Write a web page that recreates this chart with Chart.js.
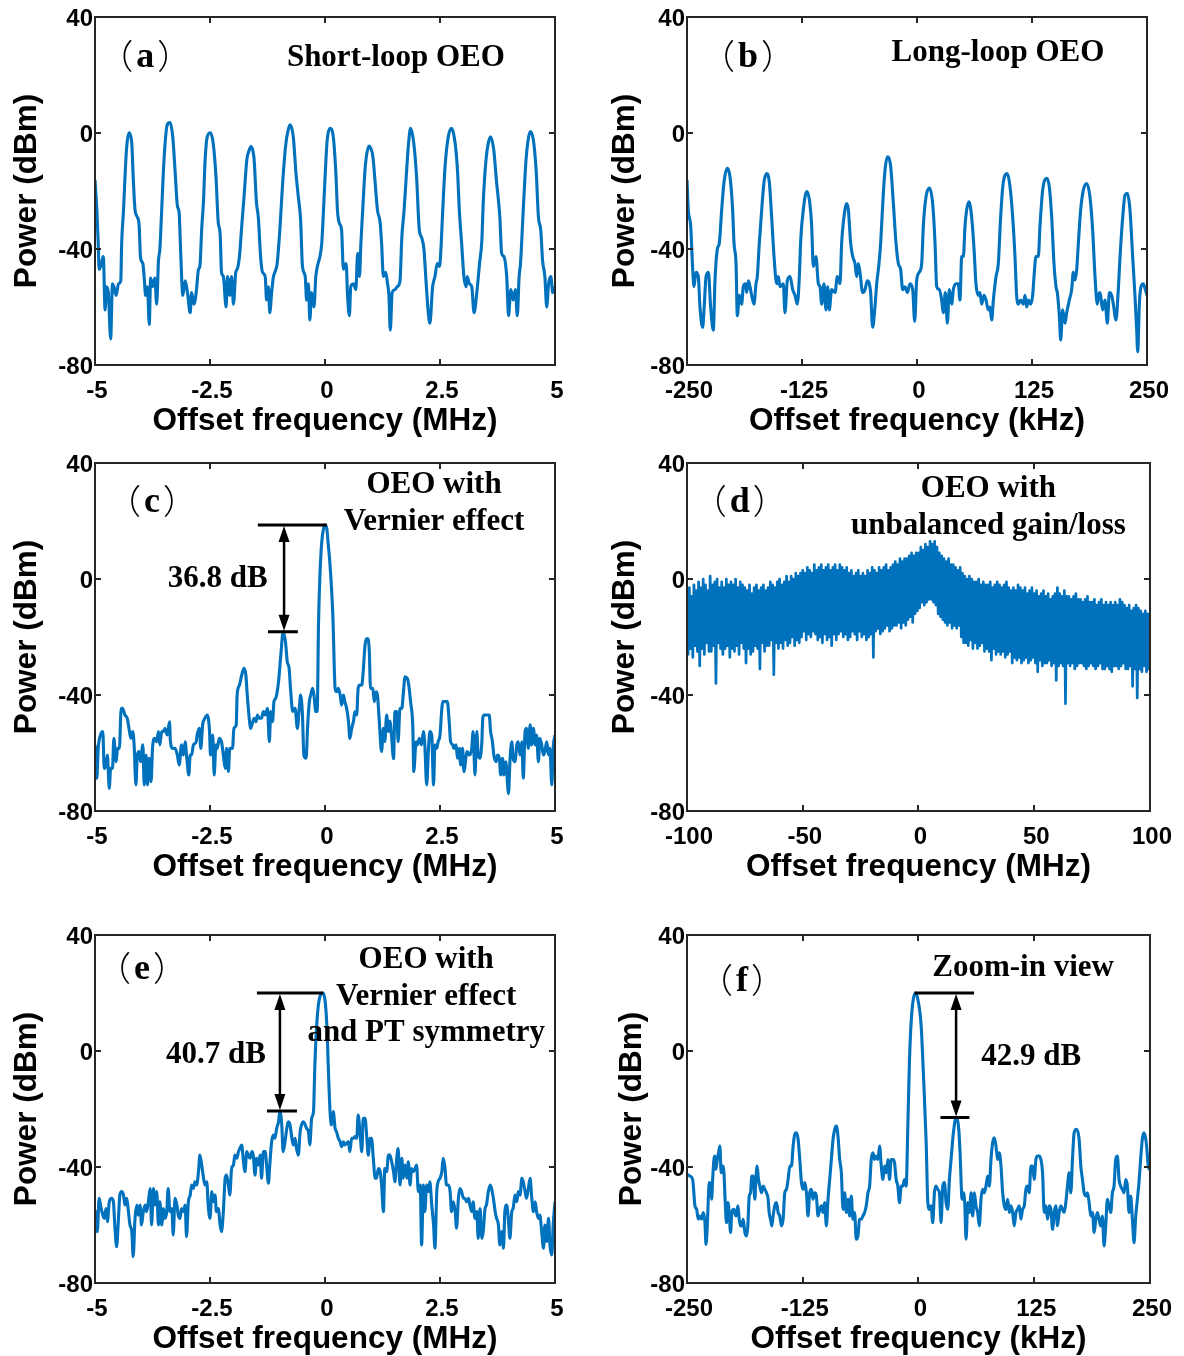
<!DOCTYPE html>
<html>
<head>
<meta charset="utf-8">
<script src="https://cdn.jsdelivr.net/npm/chart.js@4.4.1/dist/chart.umd.min.js"></script>
<style>
  html, body { margin: 0; padding: 0; background: #fff; overflow: hidden; }
  #page { position: relative; width: 1184px; height: 1356px; }
  #page canvas { position: absolute; }
</style>
</head>
<body>
<div id="page">
  <canvas id="panelA" width="592" height="438" style="left:0;top:0"></canvas>
  <canvas id="panelB" width="592" height="438" style="left:592px;top:0"></canvas>
  <canvas id="panelC" width="592" height="438" style="left:0;top:446px"></canvas>
  <canvas id="panelD" width="592" height="438" style="left:592px;top:446px"></canvas>
  <canvas id="panelE" width="592" height="438" style="left:0;top:918px"></canvas>
  <canvas id="panelF" width="592" height="438" style="left:592px;top:918px"></canvas>
</div>
<script>
// ---- axis ticks ----
const ticksMHz = [-5, -2.5, 0, 2.5, 5];
const ticksKHz = [-250, -125, 0, 125, 250];
const ticksWide = [-100, -50, 0, 50, 100];
const powerTicks = [-80, -40, 0, 40];

// ---- (a) short-loop OEO, MHz / dBm ----
const aFreq = [
  -5.00, -4.96, -4.93, -4.91, -4.86, -4.82, -4.78, -4.75, -4.71, -4.66,
  -4.62, -4.59, -4.54, -4.49, -4.44, -4.42, -4.38, -4.33, -4.30, -4.26,
  -4.22, -4.20, -4.17, -4.13, -4.08, -4.04, -4.01, -3.96, -3.93, -3.90,
  -3.86, -3.82, -3.79, -3.75, -3.70, -3.66, -3.62, -3.59, -3.55, -3.50,
  -3.43, -3.37, -3.31, -3.26, -3.21, -3.17, -3.14, -3.09, -3.04, -2.99,
  -2.93, -2.90, -2.85, -2.80, -2.75, -2.72, -2.68, -2.64, -2.61, -2.56,
  -2.49, -2.43, -2.37, -2.32, -2.28, -2.25, -2.21, -2.15, -2.12, -2.07,
  -2.03, -1.99, -1.94, -1.91, -1.86, -1.81, -1.76, -1.70, -1.65, -1.61,
  -1.57, -1.54, -1.49, -1.45, -1.40, -1.36, -1.30, -1.27, -1.23, -1.20,
  -1.16, -1.12, -1.09, -1.04, -0.98, -0.92, -0.85, -0.80, -0.76, -0.69,
  -0.63, -0.58, -0.53, -0.49, -0.43, -0.40, -0.36, -0.33, -0.29, -0.24,
  -0.20, -0.15, -0.11, -0.07, -0.04, 0.02, 0.05, 0.11, 0.18, 0.24,
  0.27, 0.31, 0.36, 0.40, 0.46, 0.49, 0.53, 0.56, 0.62, 0.67,
  0.71, 0.75, 0.78, 0.82, 0.87, 0.91, 0.96, 1.00, 1.04, 1.09,
  1.14, 1.20, 1.23, 1.27, 1.32, 1.36, 1.39, 1.42, 1.46, 1.52,
  1.57, 1.63, 1.67, 1.72, 1.78, 1.82, 1.86, 1.93, 1.99, 2.05,
  2.10, 2.15, 2.20, 2.24, 2.28, 2.34, 2.39, 2.44, 2.49, 2.52,
  2.56, 2.61, 2.68, 2.75, 2.83, 2.88, 2.92, 2.97, 3.02, 3.07,
  3.09, 3.14, 3.19, 3.24, 3.30, 3.36, 3.41, 3.44, 3.50, 3.55,
  3.60, 3.67, 3.73, 3.80, 3.84, 3.89, 3.95, 3.99, 4.04, 4.09,
  4.14, 4.18, 4.22, 4.25, 4.31, 4.37, 4.41, 4.46, 4.53, 4.59,
  4.64, 4.69, 4.73, 4.78, 4.82, 4.86, 4.91, 4.95, 5.00
];
const aPower = [
  -16.2, -26.5, -38, -47, -45, -42.6, -61, -53, -55, -71,
  -52, -53, -56, -52, -51, -38, -26.5, -9.3, -3, 0.1,
  -1.3, -3.6, -15, -26.5, -29, -32, -43, -45, -50, -56,
  -53, -66, -50, -53, -50, -59, -44, -40, -26.5, -9.3,
  2.8, 3.6, -1.3, -12.8, -25, -27.7, -40, -56, -51, -55,
  -62, -55, -59, -55, -47, -46, -33, -23, -10.5, -1.3,
  0.1, -3.6, -15, -31, -34.6, -48, -49.5, -60, -49.5, -56,
  -49.5, -59, -48, -47, -42.6, -32, -22, -9.3, -6, -4.7,
  -6, -9.3, -24, -29, -42.6, -48, -49.5, -57.6, -53, -62,
  -55, -49.5, -48, -45, -33, -17, -3.6, 1, 2.8, -1.3,
  -14, -22, -30, -46, -49.5, -57.6, -52, -64.5, -55, -60,
  -49.5, -45, -42.6, -38, -29, -9.3, -2, 1.6, -1.3, -15,
  -26.5, -31, -33.4, -47, -45, -56, -63, -53, -52, -54,
  -41.5, -49.5, -38, -26.5, -12.8, -7, -4.5, -5.5, -8, -17,
  -26.5, -31, -38, -49.5, -48, -52, -56, -68, -55, -54,
  -53, -51, -36, -26.5, -11.6, -3, 1.6, -3.6, -15, -33.4,
  -36, -40, -52, -61, -65.6, -53, -49.5, -45, -46, -40,
  -26.5, -11.6, -1.3, 1.6, -3.6, -12.8, -26.5, -38, -49.5, -53,
  -49.5, -52, -53, -62, -55, -45, -37, -24, -9.3, -3.5,
  -1.3, -6, -17, -28.7, -41.5, -42.6, -49.5, -63, -54, -57.6,
  -54, -63, -49.5, -45, -26.5, -9.3, -3, 0.5, -2.4, -12.8,
  -29, -33.4, -44, -49.5, -60, -52, -49.5, -55, -53
];

// ---- (b) long-loop OEO, kHz / dBm ----
const bFreq = [
  -250, -248.6, -246.0, -243.8, -242.4, -240.2, -237.7, -235.9, -233.0, -231.5,
  -229.3, -226.8, -224.3, -221.4, -219.6, -217.0, -214.9, -212.3, -209.8, -206.2,
  -203.3, -200.4, -198.9, -196.7, -195.3, -193.1, -190.6, -188.8, -186.6, -185.1,
  -183.3, -181.5, -179.7, -177.2, -175.0, -173.6, -171.4, -168.8, -166.3, -163.4,
  -160.5, -158.0, -155.4, -152.5, -150.7, -148.9, -145.3, -143.5, -141.0, -138.0,
  -135.1, -132.6, -130.1, -127.9, -126.4, -123.6, -119.9, -117.0, -114.5, -112.7,
  -109.8, -107.2, -105.4, -103.6, -101.1, -98.9, -97.1, -95.3, -92.8, -89.1,
  -86.6, -83.7, -81.9, -80.1, -76.4, -74.6, -72.1, -69.9, -67.4, -65.6,
  -63.8, -62.0, -59.1, -56.5, -54.0, -51.8, -50.4, -48.2, -45.7, -43.8,
  -41.3, -39.5, -36.6, -34.5, -32.2, -28.6, -25.7, -22.8, -20.3, -17.8,
  -15.6, -13.0, -10.5, -7.6, -4.7, -2.5, -0.4, 2.5, 5.1, 6.9,
  9.8, 13.4, 17.0, 19.6, 21.4, 24.3, 26.8, 28.6, 30.8, 33.0,
  35.1, 37.7, 39.5, 42.4, 44.9, 46.7, 48.6, 50.4, 52.2, 54.0,
  56.5, 59.4, 62.0, 64.1, 66.7, 68.5, 70.3, 72.8, 75.0, 77.5,
  79.3, 81.2, 83.0, 85.9, 88.4, 90.9, 93.8, 98.2, 101.1, 104.0,
  106.5, 108.3, 110.1, 112.7, 115.6, 117.4, 119.2, 121.0, 123.6, 125.7,
  127.2, 129.3, 131.9, 133.7, 136.6, 141.0, 143.8, 146.4, 148.9, 151.1,
  152.5, 154.7, 156.2, 158.3, 160.9, 162.7, 165.6, 168.1, 169.9, 171.7,
  173.6, 175.4, 177.9, 180.8, 184.4, 188.0, 190.9, 193.5, 196.0, 198.2,
  199.6, 201.8, 204.3, 206.9, 209.1, 211.6, 213.4, 216.3, 218.8, 220.7,
  223.6, 226.1, 228.6, 231.5, 234.4, 236.9, 238.8, 239.9, 241.7, 243.5,
  246.0, 248.2, 250
];
const bPower = [
  -16.2, -26.5, -32, -47, -53, -48, -49.5, -60, -67, -61,
  -49.5, -48, -60, -68, -51, -40, -38, -26.5, -17, -12.2,
  -15, -26.5, -38, -45, -63, -56, -59, -53, -52, -55,
  -51, -53, -56, -59, -52, -49.5, -38, -26.5, -17, -14,
  -17, -29, -42.6, -52, -49.5, -53, -52, -62, -51, -49.5,
  -54, -56, -59, -49.5, -37, -26.5, -20.2, -23, -32, -46,
  -42.6, -52, -53, -59, -52, -61, -53, -61, -54, -55,
  -49.5, -52, -38, -31, -24.3, -26.5, -38, -42.6, -45, -49.5,
  -45, -48, -55, -54, -51, -52, -55, -67, -60, -52,
  -45, -38, -20.8, -12, -8.2, -11.6, -24.3, -38, -45, -47,
  -54, -53, -55, -52, -54, -65, -51, -48, -45, -32,
  -22, -19, -24.3, -38, -53, -54, -57.6, -62, -55, -65.6,
  -54, -59, -54, -52, -52, -57.6, -42.6, -42.6, -32, -26.5,
  -23.7, -29, -40, -52, -56, -55, -59, -56, -57.6, -61,
  -60, -64.5, -57.6, -49.5, -45, -29, -17, -14, -18.5, -29,
  -42.6, -56, -59, -57.6, -59, -56, -60, -57.6, -59, -56,
  -49.5, -42.6, -42.6, -32, -19.7, -15.6, -18.5, -29, -45, -53,
  -55, -63, -71.4, -61, -65.6, -62, -57.6, -54, -48, -50.7,
  -47, -38, -26.5, -19.7, -17.4, -22, -33.4, -49.5, -59, -55,
  -56, -61, -57.6, -65.6, -55, -56, -59, -64.5, -54, -42.6,
  -29, -21.4, -20.8, -26.5, -42.6, -56, -68, -75.4, -59, -53,
  -52, -54, -56
];

// ---- (c) Vernier effect, MHz / dBm ----
const cFreq = [
  -5.00, -4.98, -4.96, -4.93, -4.88, -4.83, -4.80, -4.76, -4.73, -4.69,
  -4.66, -4.62, -4.59, -4.54, -4.51, -4.47, -4.43, -4.40, -4.35, -4.30,
  -4.25, -4.22, -4.18, -4.15, -4.11, -4.08, -4.04, -4.01, -3.96, -3.93,
  -3.89, -3.86, -3.82, -3.78, -3.75, -3.70, -3.66, -3.62, -3.59, -3.55,
  -3.51, -3.48, -3.43, -3.38, -3.36, -3.31, -3.26, -3.21, -3.17, -3.12,
  -3.08, -3.04, -3.01, -2.96, -2.93, -2.90, -2.86, -2.80, -2.78, -2.73,
  -2.70, -2.66, -2.61, -2.56, -2.51, -2.49, -2.44, -2.41, -2.37, -2.34,
  -2.30, -2.25, -2.21, -2.17, -2.14, -2.10, -2.07, -2.01, -1.98, -1.93,
  -1.91, -1.86, -1.81, -1.76, -1.72, -1.69, -1.64, -1.62, -1.57, -1.54,
  -1.50, -1.47, -1.43, -1.38, -1.34, -1.30, -1.25, -1.21, -1.18, -1.14,
  -1.11, -1.07, -1.01, -0.96, -0.91, -0.86, -0.82, -0.78, -0.75, -0.70,
  -0.65, -0.60, -0.56, -0.53, -0.49, -0.46, -0.41, -0.38, -0.34, -0.31,
  -0.27, -0.24, -0.20, -0.17, -0.14, -0.11, -0.07, -0.03, 0, 0.04,
  0.07, 0.11, 0.17, 0.22, 0.25, 0.29, 0.33, 0.36, 0.40, 0.43,
  0.47, 0.51, 0.54, 0.58, 0.62, 0.65, 0.69, 0.72, 0.76, 0.80,
  0.83, 0.87, 0.92, 0.96, 0.99, 1.04, 1.07, 1.11, 1.14, 1.18,
  1.23, 1.27, 1.30, 1.34, 1.38, 1.41, 1.45, 1.49, 1.52, 1.56,
  1.59, 1.63, 1.67, 1.70, 1.74, 1.79, 1.83, 1.86, 1.91, 1.93,
  1.98, 2.01, 2.05, 2.10, 2.14, 2.17, 2.21, 2.25, 2.28, 2.32,
  2.36, 2.39, 2.43, 2.46, 2.50, 2.54, 2.56, 2.61, 2.66, 2.70,
  2.73, 2.78, 2.80, 2.85, 2.88, 2.92, 2.95, 2.99, 3.02, 3.07,
  3.09, 3.14, 3.19, 3.22, 3.26, 3.30, 3.33, 3.37, 3.41, 3.43,
  3.46, 3.51, 3.57, 3.60, 3.64, 3.67, 3.72, 3.75, 3.79, 3.82,
  3.86, 3.89, 3.93, 3.99, 4.02, 4.06, 4.09, 4.13, 4.17, 4.20,
  4.24, 4.28, 4.31, 4.35, 4.38, 4.42, 4.46, 4.49, 4.53, 4.57,
  4.60, 4.64, 4.67, 4.71, 4.75, 4.78, 4.82, 4.86, 4.89, 4.93,
  4.96, 5.00
];
const cPower = [
  -57.2, -60.7, -68.7, -58.4, -53.8, -52.6, -65.3, -64.1, -60.7, -72.2,
  -65.3, -65.3, -54.9, -63, -58.4, -58.4, -44.6, -44.6, -46.9, -48,
  -52.6, -54.9, -52.6, -57.2, -71, -60.7, -59.5, -63, -57.2, -71,
  -60.7, -71, -61.8, -69.9, -58.4, -54.9, -56.1, -52.6, -57.2, -52.6,
  -52.6, -51.5, -53.8, -49.2, -56.1, -58.4, -58.4, -60.7, -64.1, -57.2,
  -60.7, -56.1, -60.7, -67.6, -60.7, -60.7, -57.2, -56.1, -53.8, -51.5,
  -58.4, -50.3, -48, -46.9, -52.6, -60.7, -53.8, -67.6, -57.2, -58.4,
  -54.9, -56.1, -60.7, -65.3, -58.4, -66.4, -58.4, -58.4, -51.5, -50.3,
  -40, -36.6, -33.1, -30.8, -33.1, -40, -49.2, -51.5, -49.2, -48,
  -49.2, -46.9, -48, -48, -45.7, -46.9, -44.6, -56.1, -45.7, -49.2,
  -42.3, -41.1, -35.4, -26.2, -18.2, -21.6, -28.5, -30.8, -37.7, -45.7,
  -44.6, -51.5, -44.6, -40, -46.9, -60.7, -61.8, -51.5, -42.3, -40,
  -37.7, -40, -45.7, -45.7, -14.7, 1.4, 12.9, 17.5, 18.6, 17.3,
  12, 4.8, -12.4, -37.7, -38.9, -37.7, -40, -43.5, -40, -42.3,
  -44.6, -49, -55, -51.5, -49, -45.7, -46.9, -37.7, -36.6, -36.6,
  -32, -22.8, -20.5, -23.9, -37.7, -37.7, -42.3, -38.9, -40, -49,
  -59.5, -51.5, -56.1, -46.9, -52.6, -49, -54.9, -62, -45.7, -45.7,
  -56.1, -44.6, -44.6, -40, -33.7, -34.3, -37.7, -42.3, -51.5, -66.4,
  -56.1, -57.2, -54.9, -57.2, -52.6, -57.2, -71, -58.4, -52.6, -53.8,
  -71, -57.2, -58.4, -56.1, -53.8, -44.6, -42.3, -42.3, -42.3, -49.2,
  -56.1, -57.2, -58.4, -57.2, -61.8, -58.4, -64.1, -58.4, -66.4, -60.7,
  -59.5, -60.7, -58.4, -52.6, -67.6, -52.6, -60.7, -61.8, -56.1, -48,
  -46.9, -46.9, -46.9, -52.6, -56.1, -60.7, -63, -60.7, -61.8, -67.6,
  -61.8, -67.6, -63, -74, -63, -56.1, -61.8, -63, -57.2, -56.1,
  -60.7, -56.1, -68.7, -52.6, -51.5, -58.4, -50.3, -57.2, -51.5, -57.2,
  -53.8, -63, -54.9, -57.2, -60.7, -59.5, -56.1, -60.7, -58.4, -71,
  -58.4, -53.8
];

// ---- (d) unbalanced gain/loss, MHz / dBm, sweep from -100 MHz in 0.5 MHz steps ----
const dStart = -100;
const dStep = 0.5;
const dPower = [
  -5, -26, -3, -24, -6, -27, -2, -23, -4, -25,
  -1, -30, -3, -24, 0, -26, -2, -22, -4, -25,
  1, -25, -2, -23, -1, -36, 0, -22, -3, -24,
  -1, -26, -3, -24, 0, -23, -2, -27, -1, -24,
  -2, -25, 0, -23, -3, -26, -1, -22, -2, -24,
  -3, -29, -4, -24, -2, -26, -5, -25, -3, -23,
  -2, -24, -4, -31, -3, -22, -2, -25, -4, -23,
  -3, -23, -1, -21, -2, -33, -3, -22, -1, -24,
  0, -22, -2, -24, -1, -21, 1, -23, -1, -22,
  1, -20, 0, -23, 2, -21, 1, -22, 2, -20,
  3, -18, 2, -21, 4, -19, 3, -20, 2, -18,
  5, -19, 3, -21, 4, -20, 5, -22, 3, -19,
  4, -21, 5, -20, 3, -23, 4, -19, 5, -21,
  3, -19, 5, -18, 4, -20, 3, -19, 4, -21,
  2, -20, 3, -18, 1, -19, 2, -21, 3, -18,
  1, -20, 2, -19, 1, -21, 3, -20, 2, -19,
  4, -27, 3, -18, 2, -17, 4, -19, 3, -18,
  4, -17, 5, -16, 3, -18, 4, -17, 5, -16,
  6, -16, 5, -15, 7, -17, 6, -15, 7, -16,
  7, -14, 8, -13, 9, -15, 8, -12, 9, -11,
  9, -10, 11, -8, 10, -9, 12, -8, 11, -7,
  13, -7, 12, -8, 13, -9, 11, -12, 9, -13,
  8, -14, 7, -15, 6, -16, 7, -15, 5, -17,
  5, -16, 4, -17, 3, -16, 4, -20, 2, -22,
  1, -22, 0, -23, 1, -21, 0, -24, -1, -22,
  -1, -24, 0, -23, -2, -22, -1, -25, -2, -24,
  -2, -25, -1, -28, -3, -24, -2, -26, -1, -25,
  -2, -26, -3, -25, -2, -27, -1, -26, -3, -25,
  -4, -29, -3, -27, -4, -28, -2, -27, -3, -29,
  -4, -28, -3, -27, -5, -29, -4, -28, -3, -27,
  -5, -29, -4, -32, -6, -28, -5, -30, -4, -29,
  -6, -29, -5, -28, -7, -30, -6, -29, -5, -35,
  -3, -30, -5, -29, -6, -30, -4, -43, -6, -29,
  -6, -30, -7, -29, -6, -31, -5, -30, -7, -29,
  -7, -29, -8, -30, -7, -31, -6, -30, -8, -29,
  -8, -30, -7, -31, -9, -30, -8, -29, -7, -31,
  -9, -31, -8, -30, -9, -31, -8, -32, -9, -30,
  -8, -30, -9, -31, -7, -30, -8, -29, -9, -31,
  -10, -31, -9, -30, -11, -37, -10, -31, -9, -41,
  -10, -31, -11, -32, -12, -30, -11, -32, -12, -31,
  -12
];
const dFreq = dPower.map((_, i) => dStart + i * dStep);

// ---- (e) Vernier effect + PT symmetry, MHz / dBm ----
const eFreq = [
  -5.00, -4.98, -4.95, -4.91, -4.88, -4.83, -4.80, -4.76, -4.73, -4.69,
  -4.64, -4.60, -4.57, -4.53, -4.49, -4.46, -4.42, -4.38, -4.35, -4.31,
  -4.28, -4.24, -4.20, -4.17, -4.13, -4.09, -4.06, -4.02, -3.99, -3.95,
  -3.91, -3.88, -3.84, -3.80, -3.77, -3.73, -3.70, -3.66, -3.62, -3.59,
  -3.55, -3.51, -3.48, -3.44, -3.41, -3.37, -3.33, -3.30, -3.26, -3.22,
  -3.19, -3.15, -3.12, -3.08, -3.04, -3.01, -2.97, -2.93, -2.90, -2.86,
  -2.83, -2.79, -2.75, -2.72, -2.68, -2.64, -2.61, -2.57, -2.54, -2.50,
  -2.46, -2.43, -2.39, -2.36, -2.32, -2.28, -2.25, -2.21, -2.17, -2.14,
  -2.10, -2.07, -2.03, -1.99, -1.96, -1.92, -1.88, -1.85, -1.81, -1.78,
  -1.74, -1.70, -1.67, -1.63, -1.59, -1.56, -1.52, -1.49, -1.45, -1.41,
  -1.38, -1.34, -1.30, -1.27, -1.23, -1.20, -1.16, -1.12, -1.09, -1.05,
  -1.01, -0.98, -0.94, -0.91, -0.87, -0.83, -0.80, -0.76, -0.72, -0.69,
  -0.65, -0.62, -0.58, -0.54, -0.51, -0.47, -0.43, -0.40, -0.36, -0.33,
  -0.29, -0.25, -0.22, -0.18, -0.12, -0.04, 0.04, 0.07, 0.11, 0.14,
  0.18, 0.22, 0.25, 0.29, 0.33, 0.36, 0.40, 0.43, 0.47, 0.51,
  0.54, 0.58, 0.62, 0.65, 0.69, 0.72, 0.76, 0.80, 0.83, 0.87,
  0.91, 0.94, 0.98, 1.01, 1.05, 1.09, 1.12, 1.16, 1.20, 1.23,
  1.27, 1.30, 1.34, 1.38, 1.41, 1.45, 1.49, 1.52, 1.56, 1.59,
  1.63, 1.67, 1.70, 1.74, 1.78, 1.81, 1.85, 1.88, 1.92, 1.96,
  1.99, 2.03, 2.07, 2.10, 2.14, 2.17, 2.21, 2.25, 2.28, 2.32,
  2.36, 2.39, 2.43, 2.46, 2.50, 2.54, 2.57, 2.61, 2.64, 2.68,
  2.72, 2.75, 2.79, 2.83, 2.86, 2.90, 2.93, 2.97, 3.01, 3.04,
  3.08, 3.12, 3.15, 3.19, 3.22, 3.26, 3.30, 3.33, 3.37, 3.41,
  3.44, 3.48, 3.51, 3.55, 3.59, 3.62, 3.66, 3.70, 3.73, 3.77,
  3.80, 3.84, 3.88, 3.91, 3.95, 3.99, 4.02, 4.06, 4.09, 4.13,
  4.17, 4.20, 4.24, 4.28, 4.31, 4.35, 4.38, 4.42, 4.46, 4.49,
  4.53, 4.57, 4.60, 4.64, 4.67, 4.71, 4.75, 4.78, 4.82, 4.86,
  4.89, 4.93, 4.96, 5.00
];
const ePower = [
  -57.7, -55.4, -62.3, -50.8, -53.1, -56.6, -57.7, -54.3, -58.9, -52,
  -50.8, -52, -60, -67.5, -57.7, -49.7, -48.5, -49.7, -53.1, -50.8,
  -54.3, -60, -62.3, -70.9, -57.7, -53.1, -56.6, -53.1, -60, -55.4,
  -53.1, -55.4, -52, -47.4, -60, -47.4, -53.1, -48.5, -60, -52,
  -60, -54.3, -57.7, -55.4, -47.4, -55.4, -54.3, -63.4, -50.8, -53.1,
  -56.6, -57.7, -54.3, -55.4, -53.1, -64, -52, -49.7, -46.2, -47.4,
  -45.1, -46.2, -41.6, -35.9, -39.3, -43.9, -46.2, -45.1, -53.1, -57.7,
  -48.5, -52, -49.7, -55.4, -54.3, -60, -62.3, -55.4, -43.9, -42.8,
  -46.2, -49.7, -40.5, -39.3, -35.9, -37, -34.7, -33.6, -32.4, -37,
  -41.6, -34.7, -35.9, -37, -34.7, -35.9, -42.8, -37, -39.3, -35.9,
  -43.9, -34.7, -34.7, -39.3, -45.6, -39.3, -31.3, -29, -30.1, -26.7,
  -24.4, -20.7, -25.5, -34.7, -31.3, -26.7, -24.4, -25.5, -30.1, -32.4,
  -30.1, -33.6, -35.9, -27.8, -25.5, -24.4, -25.5, -26.7, -27.8, -32.4,
  -23.2, -20.9, -4.8, 9, 18.2, 20, 9, -4.8, -20.9, -25.5,
  -20.9, -26.7, -27.8, -30.1, -31.3, -33, -31.3, -32.4, -31.8, -31.3,
  -34.7, -30.1, -30.1, -29.5, -30.1, -22.1, -27.8, -34.7, -23.2, -23.2,
  -30.1, -35.9, -30.1, -30.1, -37, -43.9, -43.9, -40.5, -41.6, -46.2,
  -55.4, -40.5, -41.6, -35.9, -35.9, -38.2, -41.6, -45.1, -37, -33.6,
  -46.2, -37, -43.9, -39.3, -43.9, -38.2, -46.2, -40.5, -41.6, -40.5,
  -39.3, -48.5, -46.2, -66.9, -46.2, -55.4, -46.2, -48.5, -45.1, -53.1,
  -60, -68, -48.5, -45.1, -43.9, -41.6, -37, -40.5, -46.2, -46.2,
  -48.5, -55.4, -52, -55.4, -61.1, -50.8, -47.4, -48.5, -50.8, -50.8,
  -52, -50.8, -53.1, -55.4, -52, -57.7, -55.4, -64.6, -54.3, -64.6,
  -62.3, -54.3, -53.1, -48.5, -46.2, -47.4, -50.8, -55.4, -57.7, -60,
  -66.9, -62.3, -68, -55.4, -53.1, -58.9, -64.6, -55.4, -54.3, -49.7,
  -52, -48.5, -49.7, -43.9, -45.1, -48.5, -50.8, -47.4, -43.9, -49.7,
  -55.4, -52, -55.4, -57.7, -56.6, -62.3, -68, -60, -65.7, -57.7,
  -66.9, -70.3, -60, -52
];

// ---- (f) zoom-in view, kHz / dBm ----
const fFreq = [
  -250, -246.8, -243.9, -241.4, -239.6, -237.8, -236.0, -234.2, -232.4, -230.6,
  -229.5, -228.1, -227.0, -225.9, -224.5, -223.4, -222.3, -220.9, -219.8, -218.8,
  -217.3, -215.9, -214.5, -213.1, -211.6, -210.1, -208.7, -207.3, -205.8, -204.4,
  -203.0, -201.5, -199.4, -197.2, -195.0, -193.6, -192.2, -190.7, -189.3, -187.5,
  -185.7, -184.3, -182.8, -181.4, -180.0, -178.5, -176.7, -175.6, -174.2, -172.8,
  -171.3, -169.5, -167.7, -165.9, -164.2, -162.4, -161.3, -159.8, -158.4, -157.0,
  -155.2, -153.4, -151.6, -149.8, -148.0, -146.2, -144.4, -142.6, -140.8, -139.0,
  -137.2, -135.4, -133.6, -131.8, -130.0, -128.2, -126.4, -124.6, -122.8, -121.0,
  -119.3, -117.5, -115.7, -113.9, -112.1, -110.3, -108.5, -106.7, -104.9, -103.1,
  -101.3, -99.5, -97.7, -95.9, -94.1, -92.3, -90.5, -88.7, -86.9, -85.1,
  -83.3, -81.5, -79.7, -77.9, -76.1, -74.4, -72.6, -70.8, -69.0, -67.2,
  -65.4, -63.6, -61.8, -60.0, -58.2, -56.4, -54.6, -52.8, -51.0, -49.2,
  -47.4, -45.6, -43.8, -42.0, -40.2, -38.4, -36.6, -34.8, -33.0, -31.3,
  -29.5, -27.7, -25.9, -24.1, -22.3, -20.5, -18.7, -16.9, -15.1, -13.3,
  -11.5, -9.7, -7.2, -3.0, -0.7, 2.9, 5.4, 8.3, 10.1, 11.9,
  13.6, 15.4, 17.2, 19.0, 20.8, 22.6, 24.4, 26.2, 28.0, 29.8,
  31.6, 33.4, 35.2, 37.7, 40.6, 43.5, 44.9, 47.1, 48.5, 49.9,
  51.4, 53.2, 55.0, 56.8, 58.5, 60.3, 62.1, 63.9, 65.7, 67.5,
  69.3, 71.1, 72.9, 74.7, 76.5, 78.3, 80.1, 81.9, 83.7, 85.5,
  87.3, 89.1, 90.9, 92.7, 94.5, 96.3, 98.1, 99.9, 101.7, 103.4,
  105.2, 107.0, 108.8, 110.6, 112.4, 114.2, 116.0, 117.8, 119.6, 121.4,
  123.2, 125.0, 126.8, 128.6, 130.4, 132.2, 134.0, 135.8, 137.6, 139.4,
  141.2, 143.0, 144.8, 146.6, 148.3, 150.1, 151.9, 153.7, 155.5, 157.3,
  159.1, 160.9, 162.7, 164.5, 166.3, 168.1, 170.6, 173.5, 175.3, 177.1,
  178.9, 180.7, 182.5, 184.3, 186.1, 187.9, 189.7, 191.5, 193.2, 195.0,
  196.8, 198.6, 200.4, 202.2, 204.0, 205.8, 207.6, 209.4, 211.2, 213.0,
  214.8, 216.6, 218.4, 220.2, 222.0, 223.8, 225.6, 227.4, 229.2, 231.0,
  232.8, 234.6, 236.4, 238.1, 239.9, 241.7, 243.5, 246.0, 248.2, 250
];
const fPower = [
  -42.5, -43.1, -44.3, -53.4, -54.6, -58, -56.9, -58, -55.7, -59.2,
  -66.7, -60.3, -51.1, -45.4, -46.6, -51.1, -44.3, -37.4, -36.2, -40.8,
  -37.4, -35.1, -32.8, -42, -39.7, -42, -52.3, -59.2, -52.3, -55.7,
  -62.6, -55.7, -54.6, -56.9, -53.4, -58, -60.3, -60.3, -58, -62.6,
  -63.8, -60.3, -50, -48.9, -43.1, -43.1, -51.1, -44.3, -39.7, -44.3,
  -46.6, -48.9, -46.6, -47.7, -48.9, -51.1, -55.7, -58, -60.3, -56.9,
  -53.4, -52.3, -55.7, -56.9, -60.3, -58, -48.9, -47.7, -44.3, -39.7,
  -39.7, -32.8, -28.7, -28.2, -30.5, -37.4, -45.4, -47.7, -45.4, -48.9,
  -56.9, -48.9, -47.7, -51.1, -48.9, -50, -56.9, -54.6, -53.4, -55.7,
  -52.3, -60.3, -51.1, -44.3, -37.4, -30.5, -27, -25.9, -29.5, -37.4,
  -42, -54.6, -48.9, -55.7, -51.1, -56.9, -50, -58, -55.7, -64.9,
  -63.8, -58, -58, -56.9, -55.7, -53.4, -48.9, -46.6, -37.4, -35.1,
  -37.4, -36.2, -37.4, -32.8, -39.7, -44.3, -39.7, -42, -37.4, -44.3,
  -37.4, -37.4, -38.5, -44.3, -46.6, -52.3, -46.6, -46.6, -44.3, -46.6,
  -25.9, -2.9, 13.2, 20, 17.8, 8.6, -8.6, -31.6, -52.3, -54.6,
  -53.4, -59.2, -48.9, -46.6, -47.7, -48.9, -59.2, -46.6, -45.4, -52.3,
  -54.6, -44.3, -37.4, -28.2, -22.9, -27, -35.1, -51.1, -48.9, -52.3,
  -64.9, -52.3, -55.7, -48.9, -56.9, -48.9, -53.4, -55.7, -60.3, -51.1,
  -47.7, -48.9, -46.6, -43.1, -46.6, -37.4, -31.6, -29.9, -32.8, -37.4,
  -35.1, -39.7, -48.9, -53.4, -54.6, -51.1, -55.7, -53.4, -55.7, -60.3,
  -55.7, -54.6, -53.4, -58, -54.6, -53.4, -47.7, -46.6, -48.9, -39.7,
  -39.7, -44.3, -37.4, -36.2, -36.2, -37.4, -42, -55.7, -53.4, -58,
  -53.4, -54.6, -61.5, -55.7, -53.4, -60.3, -55.7, -53.4, -54.6, -55.7,
  -52.3, -46.6, -42, -48.9, -37.4, -28.2, -27, -30.5, -39.7, -44.3,
  -48.9, -50, -48.9, -52.3, -56.9, -55.7, -62.6, -58, -55.7, -58,
  -60.3, -56.9, -67.2, -60.3, -51.1, -53.4, -55.7, -48.9, -46.6, -37.4,
  -36.2, -44.3, -46.6, -47.7, -48.9, -44.3, -46.6, -55.7, -50, -58,
  -66.1, -56.9, -51.1, -45.4, -37.4, -30.5, -28.2, -31.6, -39.7, -41
];

// side-mode suppression markers: main peak level and the gap to the strongest side mode
const cGap = { top: 18.6, span: 36.8, at: -0.89, topFrom: -1.46, topTo: 0.04, lowFrom: -1.24, lowTo: -0.59 };
const eGap = { top: 20, span: 40.7, at: -0.98, topFrom: -1.48, topTo: -0.04, lowFrom: -1.26, lowTo: -0.61 };
const fGap = { top: 20, span: 42.9, at: 40.6, topFrom: -4.3, topTo: 60, lowFrom: 23.7, lowTo: 55 };

const lineBlue = '#0072BD';
const axisColor = '#262626';
const sans = "'Liberation Sans', Arial, sans-serif";
const noteFont = "bold 31px 'Liberation Serif', 'Noto Sans CJK SC', serif";
const tagFont = "bold 36px 'Liberation Serif', serif";
const parenFont = "300 34px 'Noto Sans CJK SC', sans-serif";

// panel tag: thin full-width brackets around a bold letter
function drawTag(ctx, text, px, py) {
  const letter = text.slice(1, -1);
  ctx.font = tagFont;
  const half = ctx.measureText(letter).width / 2;
  ctx.textAlign = 'center';
  ctx.fillText(letter, px, py);
  ctx.font = parenFont;
  ctx.textAlign = 'right';
  ctx.fillText(text[0], px - half - 3, py - 2);
  ctx.textAlign = 'left';
  ctx.fillText(text[text.length - 1], px + half + 3, py - 2);
}

// frame, inward ticks, captions and the double arrow, drawn on top of the trace
function decorFor(notes, gap) {
  return {
    id: 'decor',
    afterDatasetsDraw(chart) {
      const { ctx, chartArea: area, scales: { x, y } } = chart;
      const tickLen = 6;
      ctx.save();
      ctx.strokeStyle = axisColor;
      ctx.lineWidth = 2;
      ctx.strokeRect(area.left, area.top, area.right - area.left, area.bottom - area.top);
      ctx.beginPath();
      x.ticks.forEach(t => {
        const px = Math.round(x.getPixelForValue(t.value));
        ctx.moveTo(px, area.bottom); ctx.lineTo(px, area.bottom - tickLen);
        ctx.moveTo(px, area.top); ctx.lineTo(px, area.top + tickLen);
      });
      y.ticks.forEach(t => {
        const py = Math.round(y.getPixelForValue(t.value));
        ctx.moveTo(area.left, py); ctx.lineTo(area.left + tickLen, py);
        ctx.moveTo(area.right, py); ctx.lineTo(area.right - tickLen, py);
      });
      ctx.stroke();

      ctx.fillStyle = '#000';
      ctx.textBaseline = 'middle';
      notes.forEach(n => {
        const px = x.getPixelForValue(n.x);
        const py = y.getPixelForValue(n.y);
        if (n.tag) {
          drawTag(ctx, n.text, px, py);
        } else {
          ctx.font = noteFont;
          ctx.textAlign = 'center';
          ctx.fillText(n.text, px, py);
        }
      });

      if (gap) {
        const yTop = y.getPixelForValue(gap.top);
        const yLow = y.getPixelForValue(gap.top - gap.span);
        const ax = x.getPixelForValue(gap.at);
        ctx.strokeStyle = '#000';
        ctx.lineWidth = 3;
        ctx.beginPath();
        ctx.moveTo(x.getPixelForValue(gap.topFrom), yTop);
        ctx.lineTo(x.getPixelForValue(gap.topTo), yTop);
        ctx.moveTo(x.getPixelForValue(gap.lowFrom), yLow);
        ctx.lineTo(x.getPixelForValue(gap.lowTo), yLow);
        ctx.stroke();
        ctx.lineWidth = 2.5;
        ctx.beginPath();
        ctx.moveTo(ax, yTop + 12);
        ctx.lineTo(ax, yLow - 12);
        ctx.stroke();
        ctx.beginPath();
        ctx.moveTo(ax, yTop + 1); ctx.lineTo(ax - 5.5, yTop + 17); ctx.lineTo(ax + 5.5, yTop + 17); ctx.closePath();
        ctx.moveTo(ax, yLow - 1); ctx.lineTo(ax - 5.5, yLow - 17); ctx.lineTo(ax + 5.5, yLow - 17); ctx.closePath();
        ctx.fill();
      }
      ctx.restore();
    }
  };
}

function makePanel(id, freq, power, xTicks, cfg) {
  const points = freq.map((f, i) => ({ x: f, y: power[i] }));
  const tickFont = { family: sans, size: 24, weight: 'bold', lineHeight: 1 };
  const titleFont = { family: sans, size: 31.5, weight: 'bold', lineHeight: 1 };
  return new Chart(document.getElementById(id), {
    type: 'line',
    data: {
      datasets: [{
        data: points,
        borderColor: lineBlue,
        borderWidth: cfg.dense ? 2.7 : 3.1,
        borderJoinStyle: 'round',
        cubicInterpolationMode: cfg.dense ? 'default' : 'monotone',
        pointRadius: 0,
        tension: 0,
        fill: false
      }]
    },
    options: {
      responsive: false,
      animation: false,
      events: [],
      layout: { padding: { left: 0, top: 17, right: cfg.right, bottom: 0 } },
      plugins: { legend: { display: false }, tooltip: { enabled: false } },
      scales: {
        x: {
          type: 'linear',
          min: xTicks[0],
          max: xTicks[xTicks.length - 1],
          afterBuildTicks: s => { s.ticks = xTicks.map(v => ({ value: v })); },
          afterFit: s => { s.height = 73; },
          grid: { display: false, drawTicks: false },
          border: { display: false },
          ticks: { font: tickFont, color: '#000', padding: 14, labelOffset: 2, autoSkip: false, maxRotation: 0, callback: v => String(v) },
          title: { display: true, text: cfg.xTitle, font: titleFont, color: '#000', padding: { top: 0, bottom: 1 } }
        },
        y: {
          min: -80,
          max: 40,
          afterBuildTicks: s => { s.ticks = powerTicks.map(v => ({ value: v })); },
          afterFit: s => { s.width = 95; },
          grid: { display: false, drawTicks: false },
          border: { display: false },
          ticks: { font: tickFont, color: '#000', padding: 2, labelOffset: 2.5, autoSkip: false, callback: v => String(v) },
          title: { display: true, text: 'Power (dBm)', font: titleFont, color: '#000', padding: { top: cfg.yTitlePad, bottom: 0 } }
        }
      }
    },
    plugins: [decorFor(cfg.notes, cfg.gap)]
  });
}

makePanel('panelA', aFreq, aPower, ticksMHz, {
  right: 37, yTitlePad: 11.5, xTitle: 'Offset frequency (MHz)',
  notes: [
    { text: '（a）', x: -3.91, y: 25.9, tag: true },
    { text: 'Short-loop OEO', x: 1.54, y: 25.9 }
  ]
});

makePanel('panelB', bFreq, bPower, ticksKHz, {
  right: 37, yTitlePad: 18, xTitle: 'Offset frequency (kHz)',
  notes: [
    { text: '（b）', x: -183.7, y: 25.9, tag: true },
    { text: 'Long-loop OEO', x: 88, y: 27.6 }
  ]
});

makePanel('panelC', cFreq, cPower, ticksMHz, {
  right: 37, yTitlePad: 11.5, xTitle: 'Offset frequency (MHz)',
  notes: [
    { text: '（c）', x: -3.76, y: 26.2, tag: true },
    { text: 'OEO with', x: 2.37, y: 32.4 },
    { text: 'Vernier effect', x: 2.37, y: 19.7 },
    { text: cGap.span + ' dB', x: -2.33, y: 0 }
  ],
  gap: cGap
});

makePanel('panelD', dFreq, dPower, ticksWide, {
  right: 33, yTitlePad: 18, xTitle: 'Offset frequency (MHz)', dense: true,
  notes: [
    { text: '（d）', x: -77.2, y: 26.2, tag: true },
    { text: 'OEO with', x: 30.2, y: 31 },
    { text: 'unbalanced gain/loss', x: 30.2, y: 18.3 }
  ]
});

makePanel('panelE', eFreq, ePower, ticksMHz, {
  right: 37, yTitlePad: 11.5, xTitle: 'Offset frequency (MHz)',
  notes: [
    { text: '（e）', x: -3.98, y: 27.9, tag: true },
    { text: 'OEO with', x: 2.2, y: 31.4 },
    { text: 'Vernier effect', x: 2.2, y: 18.6 },
    { text: 'and PT symmetry', x: 2.2, y: 6.2 },
    { text: eGap.span + ' dB', x: -2.37, y: -1.4 }
  ],
  gap: eGap
});

makePanel('panelF', fFreq, fPower, ticksKHz, {
  right: 33, yTitlePad: 24.5, xTitle: 'Offset frequency (kHz)',
  notes: [
    { text: '（f）', x: -190.7, y: 23.8, tag: true },
    { text: 'Zoom-in view', x: 113, y: 28.6 },
    { text: fGap.span + ' dB', x: 121.8, y: -2 }
  ],
  gap: fGap
});
</script>
</body>
</html>
